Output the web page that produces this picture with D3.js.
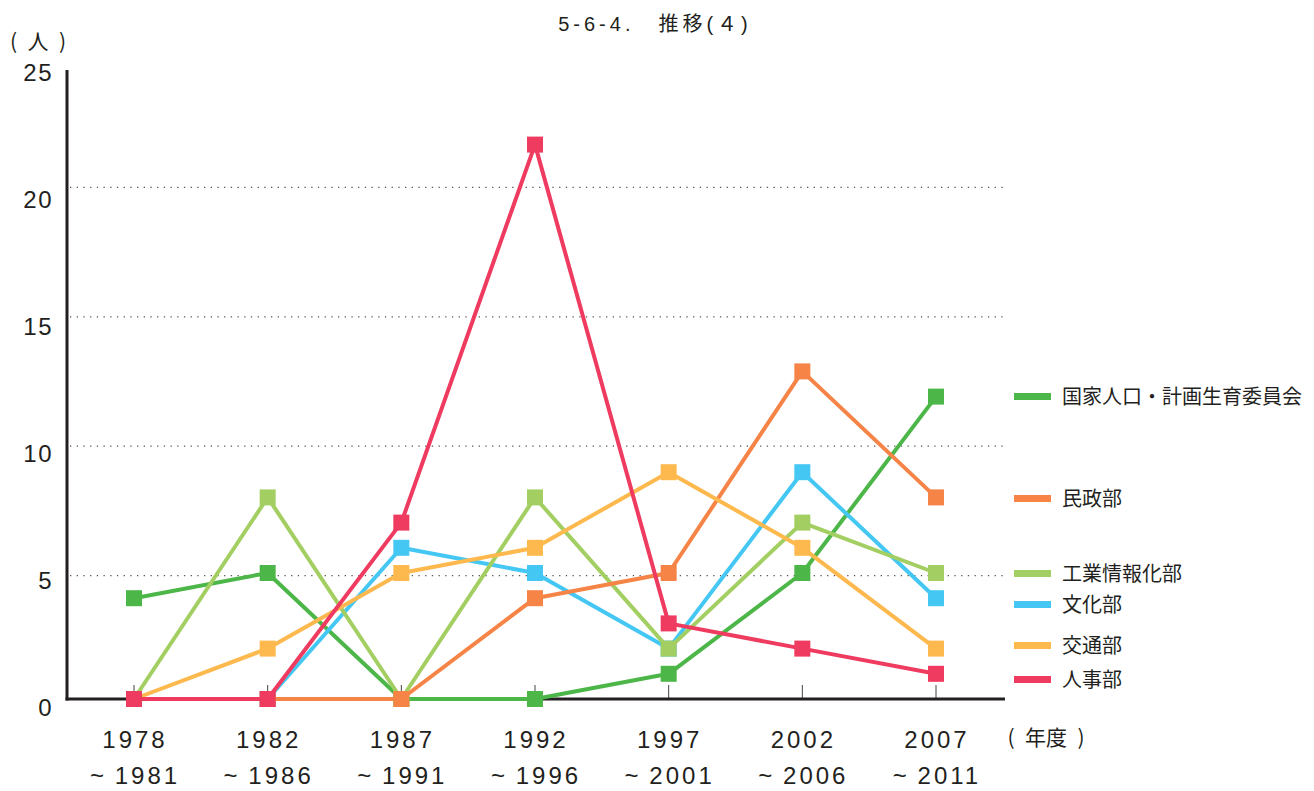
<!DOCTYPE html>
<html>
<head>
<meta charset="utf-8">
<script src="https://cdn.jsdelivr.net/npm/d3@7"></script>
<style>
  body { margin: 0; background: #fff; }
  text { font-family: "Liberation Sans", "Noto Sans CJK JP", sans-serif; fill: #231f20; }
  .jp { font-family: "Noto Sans CJK JP", sans-serif; }
</style>
</head>
<body>
<div id="chart"></div>
<script>
const periods = ["1978", "1982", "1987", "1992", "1997", "2002", "2007"];
const periodEnds = ["1981", "1986", "1991", "1996", "2001", "2006", "2011"];
const yTicks = [0, 5, 10, 15, 20, 25];

const seriesNames = ["国家人口・計画生育委員会", "民政部", "工業情報化部", "文化部", "交通部", "人事部"];
const seriesColors = ["#4cb748", "#f58446", "#a3cf62", "#45c7f4", "#fdb94e", "#ee3b5f"];

const population = [4, 5, 0, 0, 1, 5, 12];
const civilAffairs = [0, 0, 0, 4, 5, 13, 8];
const industryIT = [0, 8, 0, 8, 2, 7, 5];
const culture = [0, 0, 6, 5, 2, 9, 4];
const transport = [0, 2, 5, 6, 9, 6, 2];
const personnel = [0, 0, 7, 22, 3, 2, 1];

const seriesValues = [population, civilAffairs, industryIT, culture, transport, personnel];
// draw order so overlapping markers stack like the original
const drawOrder = [0, 3, 2, 1, 4, 5];
const legendY = [396, 498, 573, 604, 645, 679];

const width = 1314, height = 791;

const svg = d3.select("#chart")
  .append("svg")
  .attr("width", width)
  .attr("height", height);

const x = d3.scalePoint()
  .domain(periods)
  .range([134, 936]);

// data scale
const y = d3.scaleLinear()
  .domain([0, 25])
  .range([699, 69]);

// grid / label scales (the original grid and labels don't sit exactly on the data scale)
const yGrid = d3.scaleLinear()
  .domain([0, 25])
  .range([705, 58]);
const yLabel = d3.scaleLinear()
  .domain([0, 25])
  .range([707, 72]);

// title
svg.append("text")
  .attr("x", 655).attr("y", 31)
  .attr("text-anchor", "middle")
  .attr("font-size", 20)
  .attr("letter-spacing", 4)
  .text("5-6-4.　推移(４)");

// unit label
svg.append("text")
  .attr("class", "jp")
  .attr("x", 38).attr("y", 49)
  .attr("text-anchor", "middle")
  .attr("font-size", 21)
  .text("(\u2002人\u2002)");

// gridlines
svg.append("g")
  .selectAll("line")
  .data(yTicks.filter(d => d > 0 && d < 25))
  .join("line")
  .attr("x1", 70).attr("x2", 1005)
  .attr("y1", d => yGrid(d)).attr("y2", d => yGrid(d))
  .attr("stroke", "#555")
  .attr("stroke-width", 1.2)
  .attr("stroke-dasharray", "1.3,5.4");

// y tick labels
svg.append("g")
  .selectAll("text")
  .data(yTicks)
  .join("text")
  .attr("x", 53)
  .attr("y", d => yLabel(d) + 9)
  .attr("text-anchor", "end")
  .attr("font-size", 24)
  .attr("letter-spacing", 1.5)
  .text(d => d);

// x ticks
svg.append("g")
  .selectAll("line")
  .data(periods)
  .join("line")
  .attr("x1", d => x(d)).attr("x2", d => x(d))
  .attr("y1", y(0) - 14).attr("y2", y(0))
  .attr("stroke", "#444")
  .attr("stroke-width", 1);

// axes lines
svg.append("line")
  .attr("x1", 67).attr("x2", 67)
  .attr("y1", 70).attr("y2", y(0) + 1.5)
  .attr("stroke", "#231f20").attr("stroke-width", 3);
svg.append("line")
  .attr("x1", 65.5).attr("x2", 1005)
  .attr("y1", y(0)).attr("y2", y(0))
  .attr("stroke", "#231f20").attr("stroke-width", 3);

// x labels
const xl = svg.append("g");
xl.selectAll("text.start")
  .data(periods)
  .join("text")
  .attr("class", "start")
  .attr("x", d => x(d) + 1)
  .attr("y", 748)
  .attr("text-anchor", "middle")
  .attr("font-size", 24)
  .attr("letter-spacing", 3)
  .text(d => d);
xl.selectAll("text.end")
  .data(periodEnds)
  .join("text")
  .attr("class", "end")
  .attr("x", (d, i) => x(periods[i]) + 1)
  .attr("y", 784)
  .attr("text-anchor", "middle")
  .attr("font-size", 24)
  .attr("letter-spacing", 3)
  .text(d => "~\u2009" + d);

svg.append("text")
  .attr("class", "jp")
  .attr("x", 1046).attr("y", 745)
  .attr("text-anchor", "middle")
  .attr("font-size", 21)
  .text("(\u2002年度\u2002)");

// series
const line = d3.line()
  .x((d, i) => x(periods[i]))
  .y(d => y(d));

drawOrder.forEach(si => {
  const g = svg.append("g");
  g.append("path")
    .datum(seriesValues[si])
    .attr("d", line)
    .attr("fill", "none")
    .attr("stroke", seriesColors[si])
    .attr("stroke-width", 4)
    .attr("stroke-linejoin", "round");
  g.selectAll("rect")
    .data(seriesValues[si])
    .join("rect")
    .attr("x", (d, i) => x(periods[i]) - 8)
    .attr("y", d => y(d) - 8)
    .attr("width", 16)
    .attr("height", 16)
    .attr("fill", seriesColors[si]);
});

// legend
const legend = svg.append("g");
seriesNames.forEach((name, i) => {
  legend.append("rect")
    .attr("x", 1014).attr("y", legendY[i] - 3)
    .attr("width", 37).attr("height", 7)
    .attr("fill", seriesColors[i]);
  legend.append("text")
    .attr("class", "jp")
    .attr("x", 1062).attr("y", legendY[i] + 8)
    .attr("font-size", 20)
    .text(name);
});
</script>
</body>
</html>
